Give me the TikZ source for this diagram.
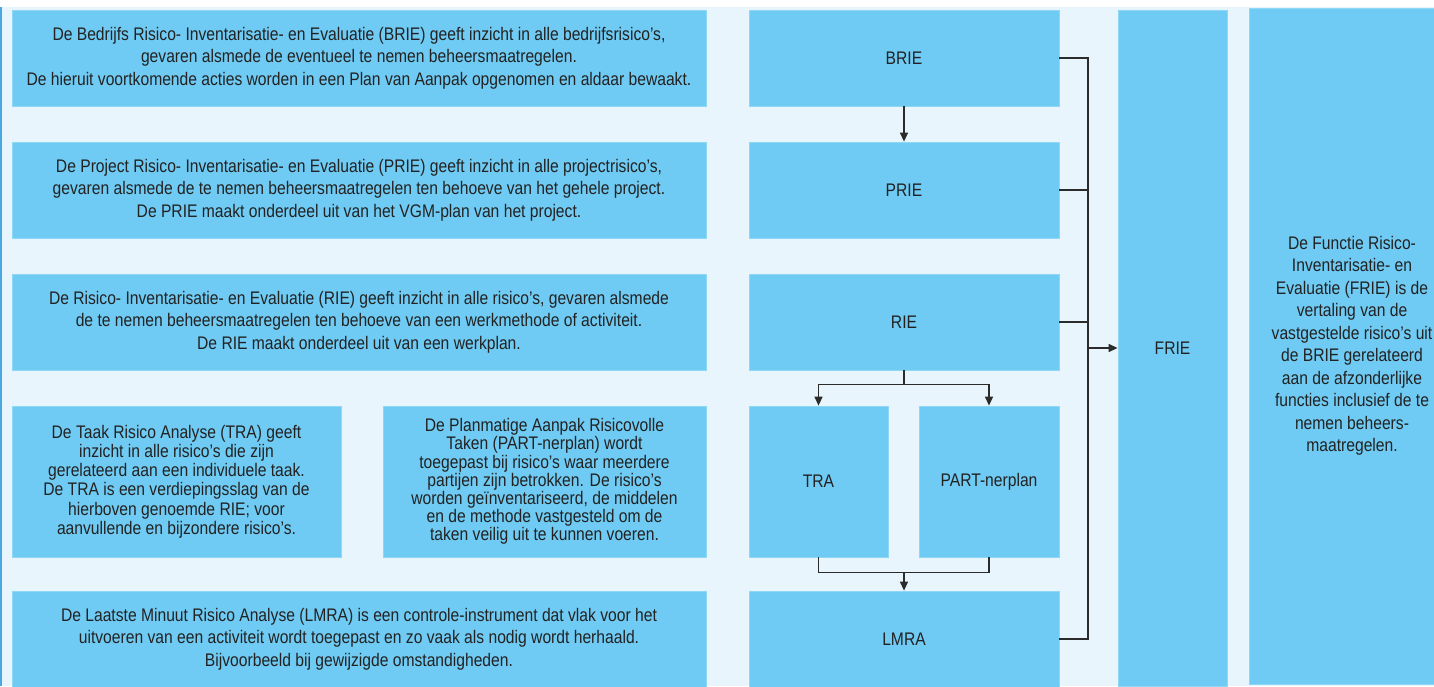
\documentclass[tikz,border=0pt]{standalone}
\usepackage{fontspec}
\setmainfont{Liberation Sans}[FakeStretch=0.86]
\usetikzlibrary{arrows.meta,calc}
\definecolor{bg}{HTML}{E8F5FD}
\definecolor{boxc}{HTML}{6FCBF3}
\definecolor{boxedge}{HTML}{8ED8F6}
\definecolor{txt}{HTML}{222222}
\definecolor{ln}{HTML}{2B2B2B}
\definecolor{leftline}{HTML}{4AA8E0}
\begin{document}
\begin{tikzpicture}[x=1pt,y=-1pt,
  box/.style={fill=boxc,draw=boxedge,line width=0.8pt,inner sep=0pt,align=center,text=txt,font=\fontsize{18.2}{22.5}\selectfont},
  tight/.style={font=\fontsize{18.2}{19.2}\selectfont},
  conn/.style={draw=ln,line width=1.3pt},
  arr/.style={conn,-{Triangle[length=9pt,width=8pt]}}]
\useasboundingbox (0,0) rectangle (1434,686);
\fill[white] (0,0) rectangle (1434,7);
\fill[bg] (0,7) rectangle (1434,686);
\fill[leftline] (0,7) rectangle (2,686);

% left text boxes
\node[box,minimum width=694pt,minimum height=96pt] (t1) at (359,58)
 {De Bedrijfs Risico- Inventarisatie- en Evaluatie (BRIE) geeft inzicht in alle bedrijfsrisico’s,\\
  gevaren alsmede de eventueel te nemen beheersmaatregelen.\\
  De hieruit voortkomende acties worden in een Plan van Aanpak opgenomen en aldaar bewaakt.};
\node[box,minimum width=694pt,minimum height=96pt] (t2) at (359,190)
 {De Project Risico- Inventarisatie- en Evaluatie (PRIE) geeft inzicht in alle projectrisico’s,\\
  gevaren alsmede de te nemen beheersmaatregelen ten behoeve van het gehele project.\\
  De PRIE maakt onderdeel uit van het VGM-plan van het project.};
\node[box,minimum width=694pt,minimum height=96pt] (t3) at (359,322)
 {De Risico- Inventarisatie- en Evaluatie (RIE) geeft inzicht in alle risico’s, gevaren alsmede\\
  de te nemen beheersmaatregelen ten behoeve van een werkmethode of activiteit.\\
  De RIE maakt onderdeel uit van een werkplan.};
\node[box,tight,minimum width=329pt,minimum height=151pt] (t4) at (176.5,481.5)
 {De Taak Risico Analyse (TRA) geeft\\
  inzicht in alle risico’s die zijn\\
  gerelateerd aan een individuele taak.\\
  De TRA is een verdiepingsslag van de\\
  hierboven genoemde RIE; voor\\
  aanvullende en bijzondere risico’s.};
\node[box,font=\fontsize{18.2}{18.2}\selectfont,minimum width=323pt,minimum height=151pt] (t5) at (544.5,481.5)
 {De Planmatige Aanpak Risicovolle\\
  Taken (PART-nerplan) wordt\\
  toegepast bij risico’s waar meerdere\\
  partijen zijn betrokken. De risico’s\\
  worden geïnventariseerd, de middelen\\
  en de methode vastgesteld om de\\
  taken veilig uit te kunnen voeren.};
\node[box,minimum width=694pt,minimum height=96pt] (t6) at (359,639)
 {De Laatste Minuut Risico Analyse (LMRA) is een controle-instrument dat vlak voor het\\
  uitvoeren van een activiteit wordt toegepast en zo vaak als nodig wordt herhaald.\\
  Bijvoorbeeld bij gewijzigde omstandigheden.};

% flow boxes
\node[box,minimum width=310pt,minimum height=96pt] (brie) at (904,58) {BRIE};
\node[box,minimum width=310pt,minimum height=96pt] (prie) at (904,190) {PRIE};
\node[box,minimum width=310pt,minimum height=96pt] (rie) at (904,322) {RIE};
\node[box,minimum width=139pt,minimum height=151pt] (tra) at (818.5,481.5) {TRA};
\node[box,minimum width=140pt,minimum height=151pt] (part) at (989,481.5) {PART-nerplan};
\node[box,minimum width=310pt,minimum height=96pt] (lmra) at (904,639) {LMRA};
\node[box,minimum width=109pt,minimum height=676pt] (frie) at (1172.5,348) {FRIE};
\node[box,minimum width=206pt,minimum height=676pt] (fdesc) at (1352,346)
 {De Functie Risico-\\
  Inventarisatie- en\\
  Evaluatie (FRIE) is de\\
  vertaling van de\\
  vastgestelde risico’s uit\\
  de BRIE gerelateerd\\
  aan de afzonderlijke\\
  functies inclusief de te\\
  nemen beheers-\\
  maatregelen.};

% connectors
\draw[arr] (brie.south) -- (prie.north);
\draw[conn] (rie.south) -- ++(0,14) coordinate (rb);
\draw[arr] (rb) -| (tra.north);
\draw[arr] (rb) -| (part.north);
\coordinate (lm) at ($(lmra.north)+(0,-18)$);
\draw[conn] (tra.south) |- (lm) -| (part.south);
\draw[arr] (lm) -- (lmra.north);
\coordinate (bus) at (1088,0);
\draw[conn] (brie.east) -- (brie.east -| bus) -- (lmra.east -| bus) -- (lmra.east);
\draw[conn] (prie.east) -- (prie.east -| bus);
\draw[conn] (rie.east) -- (rie.east -| bus);
\draw[arr] (frie.west -| bus) -- (frie.west);
\end{tikzpicture}
\end{document}
